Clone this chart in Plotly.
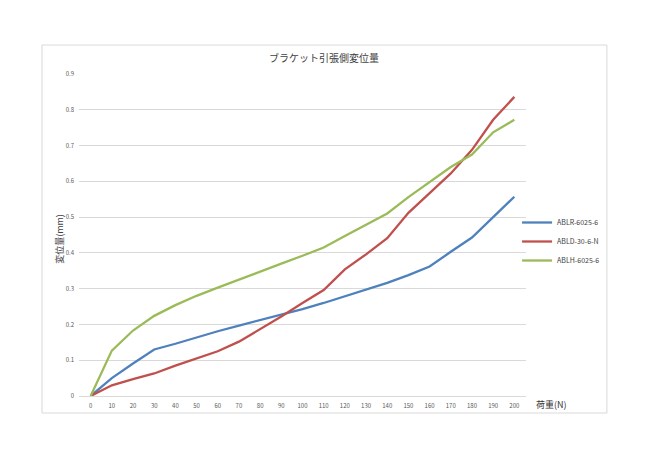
"""Bracket tension-side displacement chart."""

import plotly.graph_objects as go

load_n = list(range(0, 210, 10))
ablr_6025_6 = [0, 0.05, 0.091, 0.13, 0.146, 0.164, 0.181, 0.197, 0.212, 0.227, 0.243,
               0.26, 0.278, 0.296, 0.316, 0.338, 0.362, 0.403, 0.443, 0.5, 0.557]
abld_30_6_n = [0, 0.03, 0.047, 0.063, 0.085, 0.105, 0.125, 0.152, 0.187, 0.222, 0.26,
               0.296, 0.354, 0.396, 0.441, 0.512, 0.567, 0.622, 0.688, 0.772, 0.836]
ablh_6025_6 = [0, 0.127, 0.183, 0.224, 0.254, 0.28, 0.303, 0.326, 0.349, 0.37, 0.392,
               0.415, 0.447, 0.478, 0.51, 0.556, 0.597, 0.64, 0.675, 0.737, 0.772]
series_names = ["ABLR-6025-6", "ABLD-30-6-N", "ABLH-6025-6"]
series_colors = ["#4F81BD", "#C0504D", "#9BBB59"]

FONT = "Noto Sans CJK JP"

# page body has an 8px margin, so the figure is drawn 8px in from the window corner
fig = go.Figure()
for name, values, color in zip(series_names, [ablr_6025_6, abld_30_6_n, ablh_6025_6], series_colors):
    fig.add_trace(go.Scatter(x=load_n, y=values, mode="lines", name=name,
                             line={"color": color, "width": 2.3}))

fig.update_layout(
    width=634,
    height=443,
    margin={"l": 71, "r": 116, "t": 66, "b": 55, "autoexpand": False},
    paper_bgcolor="white",
    plot_bgcolor="white",
    font={"family": FONT, "color": "#595959", "size": 6},
    title={"text": "ブラケット引張側変位量", "x": 0.548, "xref": "paper", "xanchor": "center",
           "y": 1 - 50 / 443, "yref": "container", "yanchor": "middle",
           "font": {"family": FONT, "size": 10, "color": "#404040"}},
    xaxis={"range": [-5.5, 205.5], "dtick": 10, "showgrid": False, "zeroline": False,
           "showline": True, "linecolor": "#D9D9D9", "linewidth": 1,
           "ticks": "", "ticklabelstandoff": 4, "tickfont": {"size": 6}},
    yaxis={"range": [0, 0.9], "dtick": 0.1, "showgrid": True, "gridcolor": "#D9D9D9",
           "gridwidth": 1, "zeroline": False, "ticks": "", "ticklabelstandoff": 4,
           "tickfont": {"size": 6}},
    legend={"x": 0.98, "xanchor": "left", "y": (396 - 208) / 322, "yanchor": "top",
            "font": {"size": 7, "color": "#404040"}, "bgcolor": "rgba(0,0,0,0)",
            "tracegroupgap": 0},
    showlegend=True,
    shapes=[{"type": "rect", "xref": "paper", "yref": "paper",
             "x0": -0.0828, "x1": 1.181, "y0": -0.0528, "y1": 1.090,
             "line": {"color": "#D9D9D9", "width": 1}, "layer": "below"}],
    annotations=[
        {"text": "荷重(N)", "xref": "paper", "yref": "paper", "x": 1.058, "y": -0.025,
         "xanchor": "center", "yanchor": "middle",
         "showarrow": False, "font": {"size": 9, "color": "#333333"}},
        {"text": "変位量(mm)", "xref": "paper", "yref": "paper", "x": -0.0425, "y": 0.488,
         "xanchor": "center", "yanchor": "middle",
         "textangle": -90, "showarrow": False, "font": {"size": 9, "color": "#404040"}},
    ],
)

fig.write_html("out.html")
